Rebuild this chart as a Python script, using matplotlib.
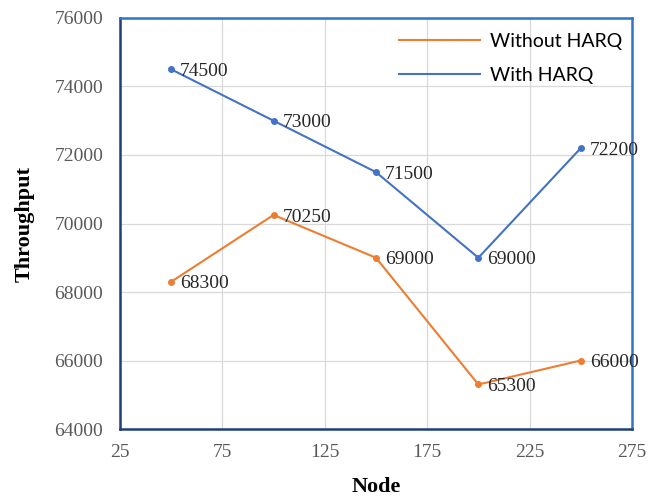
import matplotlib.pyplot as plt

nodes = [50, 100, 150, 200, 250]
without_harq = [68300, 70250, 69000, 65300, 66000]
with_harq = [74500, 73000, 71500, 69000, 72200]

fig = plt.figure(figsize=(6.48, 4.97), dpi=100)
ax = fig.add_axes([0.1852, 0.1368, 0.790, 0.827])

serif = 'Liberation Serif'
ax.plot(nodes, without_harq, color='#ED7D31', lw=1.5, marker='o', ms=4)
ax.plot(nodes, with_harq, color='#4472C4', lw=1.5, marker='o', ms=4)
# legend handles are plain lines
ax.plot([], [], color='#ED7D31', lw=1.5, label='Without HARQ')
ax.plot([], [], color='#4472C4', lw=1.5, label='With HARQ')

for series in (without_harq, with_harq):
    for x, y in zip(nodes, series):
        ax.annotate(str(y), (x, y), xytext=(6.5, -1.5), textcoords='offset points',
                    va='center', ha='left', fontsize=14, family=serif, color='#262626')

ax.set_xlim(25, 275)
ax.set_ylim(64000, 76000)
ax.set_xticks(range(25, 276, 50))
ax.set_yticks(range(64000, 76001, 2000))
ax.grid(True, color='#D9D9D9', lw=0.9)
ax.set_axisbelow(True)
ax.tick_params(length=0, labelsize=14, labelcolor='#595959')
ax.tick_params(axis='y', pad=12)
ax.tick_params(axis='x', pad=11)
for lab in ax.get_xticklabels() + ax.get_yticklabels():
    lab.set_family(serif)

for side, c in [('left', '#1F3F7A'), ('bottom', '#1F3F7A'), ('top', '#2E75C6'), ('right', '#2E75C6')]:
    ax.spines[side].set_color(c)
    ax.spines[side].set_linewidth(1.8)

ax.set_xlabel('Node', family=serif, fontsize=16, fontweight='bold', labelpad=11)
ax.set_ylabel('Throughput', family=serif, fontsize=16, fontweight='bold', labelpad=14)

ax.legend(loc='upper right', bbox_to_anchor=(1.0, 0.988), frameon=False,
          prop={'family': 'Lato', 'size': 14},
          handlelength=4.2, handletextpad=0.5, labelspacing=0.9, borderaxespad=0.1)

fig.savefig('out.png', dpi=100)
